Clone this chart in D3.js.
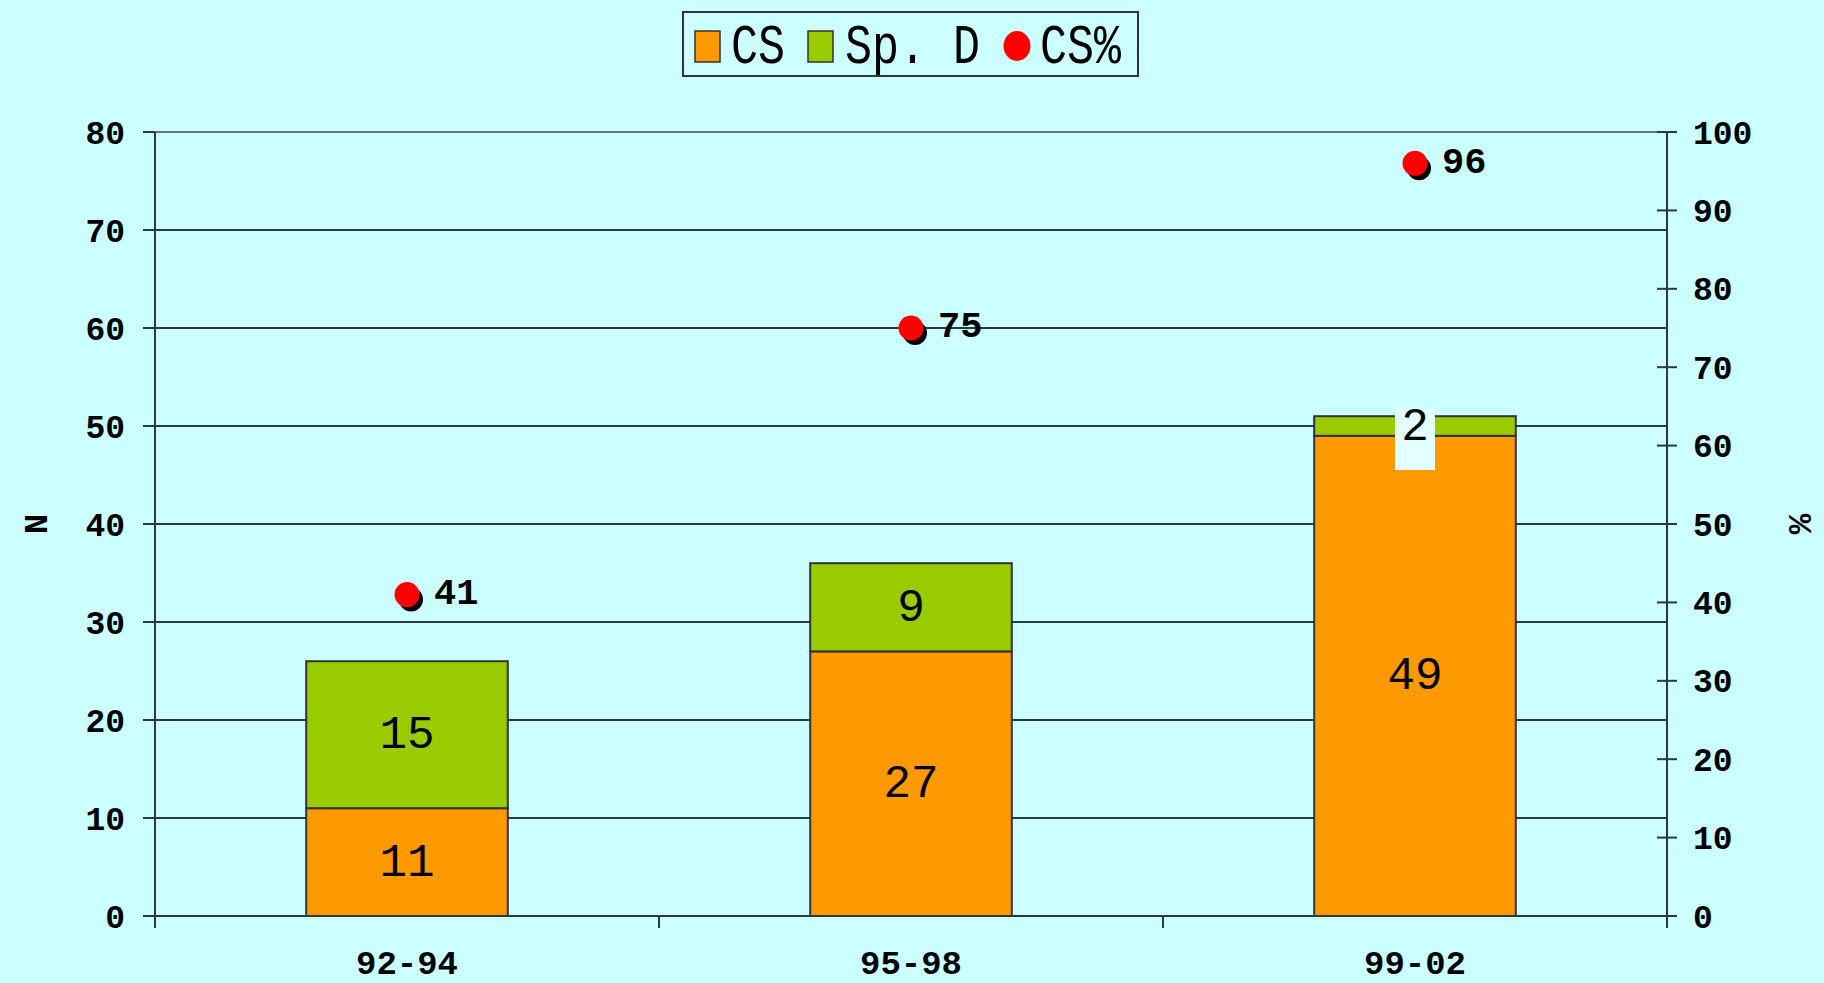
<!DOCTYPE html>
<html>
<head>
<meta charset="utf-8">
<script src="https://cdn.jsdelivr.net/npm/d3@7"></script>
<style>
html,body{margin:0;padding:0;background:#CCFFFF;}
svg{display:block;}
text{font-family:"Liberation Mono","Courier New",monospace;fill:#000;}
</style>
</head>
<body>
<svg id="chart" width="1824" height="983"></svg>
<script>
const categories = ["92-94", "95-98", "99-02"];
const csValues = [11, 27, 49];
const spdValues = [15, 9, 2];
const csPercent = [41, 75, 96];
const leftTicks = [0, 10, 20, 30, 40, 50, 60, 70, 80];
const rightTicks = [0, 10, 20, 30, 40, 50, 60, 70, 80, 90, 100];
const seriesNames = ["CS", "Sp. D", "CS%"];

const W = 1824, H = 983;
const m = {left: 155, right: 1667, top: 132, bottom: 916};
const colors = {cs: "#FF9900", spd: "#99CC00", pct: "#FF0000", line: "#2b3a3a"};

const svg = d3.select("#chart");
svg.append("rect").attr("width", W).attr("height", H).attr("fill", "#CCFFFF");

const x = d3.scaleBand().domain(categories).range([m.left, m.right]).paddingInner(0).paddingOuter(0);
const xb = d3.scaleBand().domain(categories).range([m.left, m.right]).paddingInner(0.6).paddingOuter(0.3);
const y = d3.scaleLinear().domain([0, 80]).range([m.bottom, m.top]);
const y2 = d3.scaleLinear().domain([0, 100]).range([m.bottom, m.top]);

// gridlines
svg.append("g").selectAll("line").data(leftTicks.filter(d => d > 0)).join("line")
  .attr("x1", m.left).attr("x2", m.right)
  .attr("y1", d => y(d)).attr("y2", d => y(d))
  .attr("stroke", d => d === 80 ? "#667777" : colors.line).attr("stroke-width", 2);

// stacked bars
const data = categories.map((c, i) => ({cat: c, cs: csValues[i], spd: spdValues[i], pct: csPercent[i]}));
const stack = d3.stack().keys(["cs", "spd"])(data);
const segColors = {cs: colors.cs, spd: colors.spd};
stack.forEach(layer => {
  svg.append("g").selectAll("rect").data(layer).join("rect")
    .attr("x", d => xb(d.data.cat))
    .attr("width", xb.bandwidth())
    .attr("y", d => y(d[1]))
    .attr("height", d => y(d[0]) - y(d[1]))
    .attr("fill", segColors[layer.key])
    .attr("stroke", "#333").attr("stroke-width", 2);
});

// bar labels
stack.forEach(layer => {
  layer.forEach(d => {
    const cx = xb(d.data.cat) + xb.bandwidth() / 2;
    const cy = (y(d[0]) + y(d[1])) / 2;
    const h = y(d[0]) - y(d[1]);
    const val = d[1] - d[0];
    if (h < 40) {
      svg.append("rect").attr("x", cx - 20).attr("y", cy - 18).attr("width", 40).attr("height", 62)
        .attr("fill", "#E4FFFF");
    }
    svg.append("text").attr("x", cx).attr("y", cy - 3)
      .attr("text-anchor", "middle").attr("dy", "0.36em")
      .style("font-size", "46px")
      .text(val);
  });
});

// left axis
svg.append("line").attr("x1", m.left).attr("x2", m.left).attr("y1", m.top).attr("y2", m.bottom + 12)
  .attr("stroke", colors.line).attr("stroke-width", 2);
const gl = svg.append("g");
gl.selectAll("line").data(leftTicks).join("line")
  .attr("x1", m.left - 12).attr("x2", m.left).attr("y1", d => y(d)).attr("y2", d => y(d))
  .attr("stroke", colors.line).attr("stroke-width", 2);
gl.selectAll("text").data(leftTicks).join("text")
  .attr("x", m.left - 30).attr("y", d => y(d)).attr("dy", "0.35em")
  .attr("text-anchor", "end").style("font-size", "33px").style("font-weight", "bold")
  .text(d => d);

// right axis
svg.append("line").attr("x1", m.right).attr("x2", m.right).attr("y1", m.top).attr("y2", m.bottom + 12)
  .attr("stroke", colors.line).attr("stroke-width", 2);
const gr = svg.append("g");
gr.selectAll("line").data(rightTicks).join("line")
  .attr("x1", m.right - 10).attr("x2", m.right + 10).attr("y1", d => y2(d)).attr("y2", d => y2(d))
  .attr("stroke", colors.line).attr("stroke-width", 2);
gr.selectAll("text").data(rightTicks).join("text")
  .attr("x", m.right + 26).attr("y", d => y2(d)).attr("dy", "0.35em")
  .attr("text-anchor", "start").style("font-size", "33px").style("font-weight", "bold")
  .text(d => d);

// x axis
svg.append("line").attr("x1", m.left - 12).attr("x2", m.right + 10).attr("y1", m.bottom).attr("y2", m.bottom)
  .attr("stroke", colors.line).attr("stroke-width", 2);
const bounds = categories.map(c => x(c)).concat([m.right]);
svg.append("g").selectAll("line").data(bounds).join("line")
  .attr("x1", d => d).attr("x2", d => d).attr("y1", m.bottom).attr("y2", m.bottom + 12)
  .attr("stroke", colors.line).attr("stroke-width", 2);
svg.append("g").selectAll("text").data(categories).join("text")
  .attr("x", d => x(d) + x.bandwidth() / 2).attr("y", 974)
  .attr("text-anchor", "middle").style("font-size", "34px").style("font-weight", "bold")
  .text(d => d);

// axis titles
svg.append("text").attr("transform", "translate(35,524) rotate(-90)")
  .attr("text-anchor", "middle").attr("dy", "0.35em")
  .style("font-size", "34px").style("font-weight", "bold").text("N");
svg.append("text").attr("transform", "translate(1801,524) rotate(90)")
  .attr("text-anchor", "middle").attr("dy", "0.35em")
  .style("font-size", "34px").style("font-weight", "bold").text("%");

// percent points
const gp = svg.append("g");
data.forEach(d => {
  const cx = x(d.cat) + x.bandwidth() / 2;
  const cy = y2(d.pct);
  gp.append("circle").attr("cx", cx + 4).attr("cy", cy + 5).attr("r", 12).attr("fill", "#000");
  gp.append("circle").attr("cx", cx).attr("cy", cy).attr("r", 12.5).attr("fill", colors.pct);
  gp.append("text").attr("x", cx + 27).attr("y", cy - 4).attr("dy", "0.36em")
    .style("font-size", "37px").style("font-weight", "bold").text(d.pct);
});

// legend
const lg = svg.append("g");
lg.append("rect").attr("x", 683).attr("y", 12).attr("width", 455).attr("height", 64)
  .attr("fill", "#CCFFFF").attr("stroke", "#333").attr("stroke-width", 2);
const legendItems = [
  {name: seriesNames[0], type: "rect", color: colors.cs, sx: 695, tx: 731},
  {name: seriesNames[1], type: "rect", color: colors.spd, sx: 808, tx: 845},
  {name: seriesNames[2], type: "circle", color: colors.pct, sx: 1017, tx: 1040}
];
legendItems.forEach(it => {
  if (it.type === "rect") {
    lg.append("rect").attr("x", it.sx).attr("y", 31).attr("width", 25).attr("height", 31)
      .attr("fill", it.color).attr("stroke", "#333").attr("stroke-width", 1.5);
  } else {
    lg.append("ellipse").attr("cx", it.sx).attr("cy", 46).attr("rx", 13.5).attr("ry", 15)
      .attr("fill", it.color);
  }
  lg.append("g").attr("transform", `translate(${it.tx},63) scale(1,1.22)`)
    .append("text").attr("x", 0).attr("y", 0)
    .style("font-size", "45px").text(it.name);
});
</script>
</body>
</html>
